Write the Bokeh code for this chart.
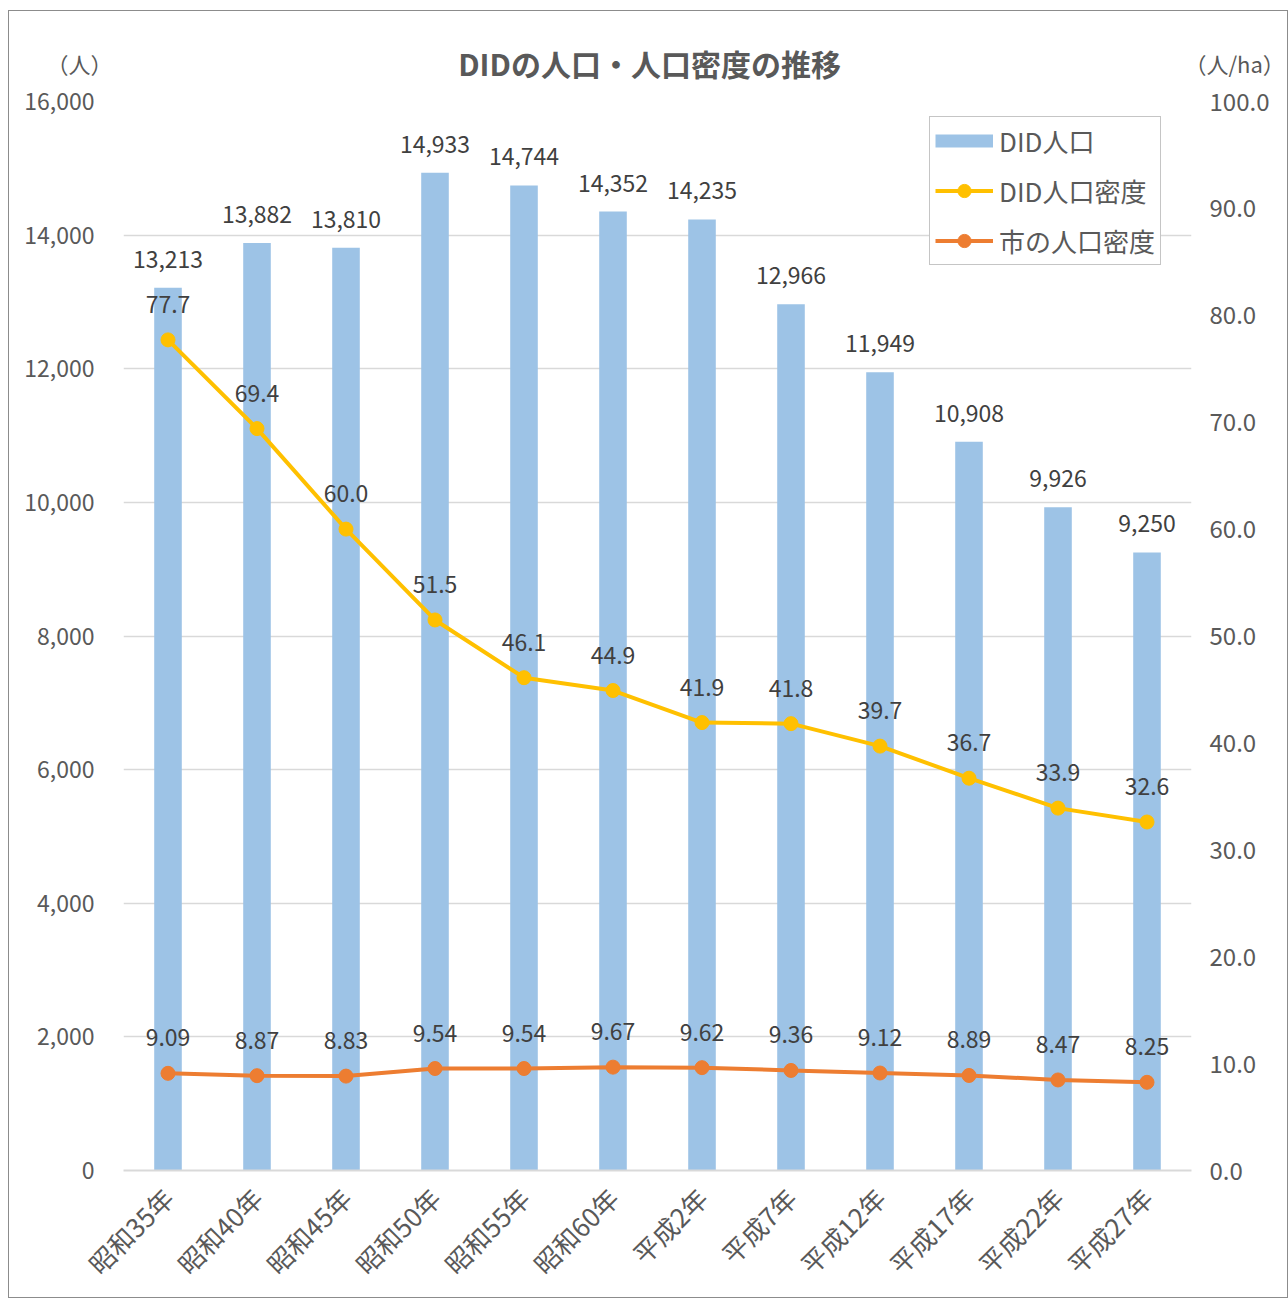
import numpy as np
from bokeh.plotting import figure
from bokeh.layouts import column
from bokeh.models import (LinearAxis, Range1d, ColumnDataSource, Legend, LegendItem,
                          NumeralTickFormatter, FixedTicker)
from bokeh.embed import file_html
from bokeh.resources import INLINE
from bokeh.core.properties import value

categories = ["昭和35年", "昭和40年", "昭和45年", "昭和50年", "昭和55年", "昭和60年",
              "平成2年", "平成7年", "平成12年", "平成17年", "平成22年", "平成27年"]
did_pop = [13213, 13882, 13810, 14933, 14744, 14352, 14235, 12966, 11949, 10908, 9926, 9250]
did_density = [77.7, 69.4, 60.0, 51.5, 46.1, 44.9, 41.9, 41.8, 39.7, 36.7, 33.9, 32.6]
city_density = [9.09, 8.87, 8.83, 9.54, 9.54, 9.67, 9.62, 9.36, 9.12, 8.89, 8.47, 8.25]
left_ticks = list(range(0, 16001, 2000))
right_ticks = list(range(0, 101, 10))
title_text = "DIDの人口・人口密度の推移"
left_unit = "（人）"
right_unit = "（人/ha）"

FONT = "Noto Sans CJK JP"
GREY = "#595959"
LBL = "#404040"
BAR = "#9dc3e6"
YEL = "#ffc000"
ORG = "#ed7d31"
W = 1278
TOP_H = 72
HDR_TOP = 30
MAIN_H = 1214
FRAME_W = 1074

# ---------- header strip (title and unit labels) ----------
hdr = figure(width=W, height=TOP_H, x_range=Range1d(0, FRAME_W),
             y_range=Range1d(0, TOP_H - HDR_TOP),
             x_axis_type=None, y_axis_type=None, output_backend="svg", toolbar_location=None,
             min_border_left=114, min_border_right=90, min_border_top=HDR_TOP, min_border_bottom=0)
hdr.outline_line_color = None
hdr.grid.visible = False
hdr.text(x=[529], y=[21], text=[title_text], text_align="center", text_baseline="middle",
         text_font=value(FONT), text_font_size="30px", text_font_style="bold", text_color=GREY)
for side, lab, so in [("left", left_unit, 11), ("right", right_unit, -7)]:
    ax = LinearAxis(ticker=FixedTicker(ticks=[]), axis_label=lab)
    ax.axis_line_color = None
    ax.major_tick_line_color = None
    ax.minor_tick_line_color = None
    ax.major_tick_out = 0
    ax.major_tick_in = 0
    ax.minor_tick_out = 0
    ax.major_label_text_font_size = "0px"
    ax.major_label_standoff = 0
    ax.axis_label_orientation = "horizontal"
    ax.axis_label_standoff = so
    ax.axis_label_text_font = FONT
    ax.axis_label_text_font_size = "22px"
    ax.axis_label_text_font_style = "normal"
    ax.axis_label_text_color = GREY
    hdr.add_layout(ax, side)

# ---------- main chart ----------
src = ColumnDataSource(dict(
    cat=categories, pop=did_pop, dd=did_density, cd=city_density,
    pop_lbl=[f"{v:,}" for v in did_pop],
    dd_lbl=[f"{v:.1f}" for v in did_density],
    cd_lbl=[f"{v:.2f}" for v in city_density],
))

p = figure(x_range=categories, y_range=Range1d(0, 16000), width=W, height=MAIN_H,
           output_backend="svg", toolbar_location=None,
           min_border_left=114, min_border_right=90, min_border_top=18, min_border_bottom=124)
p.extra_y_ranges = {"r": Range1d(0, 100)}
p.outline_line_color = None

bars = p.vbar(x="cat", top="pop", width=0.31, source=src, color=BAR, line_color=None)
l1 = p.line(x="cat", y="dd", source=src, y_range_name="r", line_color=YEL, line_width=4)
c1 = p.scatter(x="cat", y="dd", source=src, y_range_name="r", size=14, fill_color=YEL, line_color=YEL)
l2 = p.line(x="cat", y="cd", source=src, y_range_name="r", line_color=ORG, line_width=4)
c2 = p.scatter(x="cat", y="cd", source=src, y_range_name="r", size=14, fill_color=ORG, line_color=ORG)
# legend swatch for bars (thin rectangle like the reference)
bar_sw = p.line(x=[categories[0], categories[0]], y=[-100, -100], line_color=BAR, line_width=13,
                line_cap="butt")

p.text(x="cat", y="pop", text="pop_lbl", source=src, text_align="center", text_baseline="bottom",
       y_offset=-20, text_font=value(FONT), text_font_size="23px", text_color=LBL)
p.text(x="cat", y="dd", text="dd_lbl", source=src, y_range_name="r", text_align="center",
       text_baseline="bottom", y_offset=-27, text_font=value(FONT), text_font_size="23px",
       text_color=LBL)
p.text(x="cat", y="cd", text="cd_lbl", source=src, y_range_name="r", text_align="center",
       text_baseline="bottom", y_offset=-27, text_font=value(FONT), text_font_size="23px",
       text_color=LBL)

# axes
p.yaxis.ticker = FixedTicker(ticks=left_ticks)
p.yaxis.formatter = NumeralTickFormatter(format="0,0")
ra = LinearAxis(y_range_name="r", ticker=FixedTicker(ticks=right_ticks),
                formatter=NumeralTickFormatter(format="0.0"))
p.add_layout(ra, "right")
for ax in [p.yaxis[0], ra]:
    ax.axis_line_color = None
    ax.major_tick_line_color = None
    ax.minor_tick_line_color = None
    ax.major_label_text_font = FONT
    ax.major_label_text_font_size = "23px"
    ax.major_label_text_color = GREY
ra.major_label_text_font_size = "24px"
p.yaxis[0].major_label_standoff = 23
ra.major_label_standoff = 12

xa = p.xaxis[0]
xa.axis_line_color = "#d9d9d9"
xa.axis_line_width = 2
xa.major_tick_line_color = None
xa.major_label_orientation = np.pi / 4
xa.major_label_text_font = FONT
xa.major_label_text_font_size = "26px"
xa.major_label_text_color = GREY
xa.major_label_standoff = 16

p.xgrid.grid_line_color = None
p.ygrid.grid_line_color = "#d9d9d9"
p.ygrid.grid_line_width = 1.5
p.ygrid.ticker = FixedTicker(ticks=left_ticks)

legend = Legend(items=[
    LegendItem(label="DID人口", renderers=[bar_sw]),
    LegendItem(label="DID人口密度", renderers=[l1, c1]),
    LegendItem(label="市の人口密度", renderers=[l2, c2]),
], location=(806, 905))
legend.label_text_font = FONT
legend.label_text_font_size = "26px"
legend.label_text_color = GREY
legend.border_line_color = "#8c8c8c"
legend.border_line_width = 1.5
legend.glyph_width = 58
legend.glyph_height = 33
legend.label_height = 33
legend.spacing = 13
legend.padding = 5
legend.margin = 0
legend.label_standoff = 6
legend.background_fill_color = "white"
legend.background_fill_alpha = 1
p.add_layout(legend)

page = column(hdr, p, spacing=0,
              styles={"border": "1px solid #8c8c8c", "margin-left": "8px", "margin-top": "10px"})

open("out.html", "w").write(file_html(page, INLINE))
